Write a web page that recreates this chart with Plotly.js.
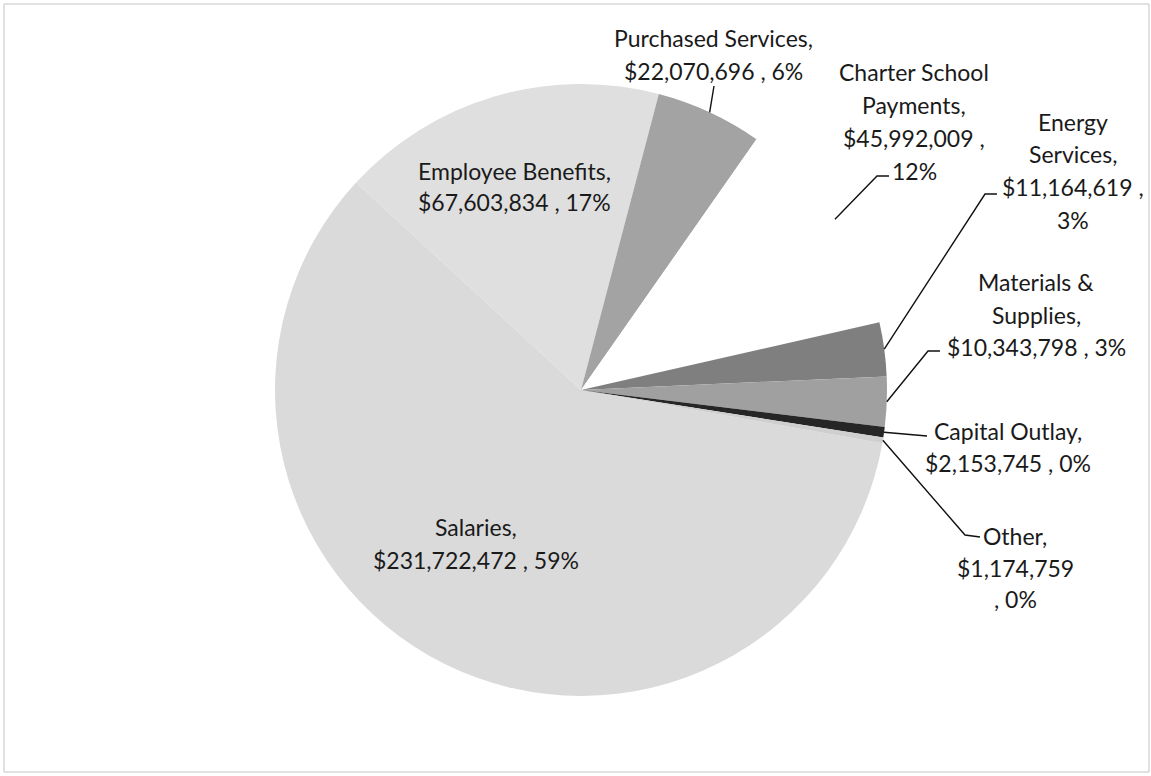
<!DOCTYPE html>
<html>
<head>
<meta charset="utf-8">
<script src="https://cdn.plot.ly/plotly-3.0.1.min.js"></script>
<style>html,body{margin:0;padding:0;background:#fff;}#chart{width:1151px;height:776px;}</style>
</head>
<body>
<div id="chart"></div>
<script>
// ---- data ----
const categories = ["Salaries", "Employee Benefits", "Purchased Services", "Charter School Payments", "Energy Services", "Materials & Supplies", "Capital Outlay", "Other"];
const amounts = [231722472, 67603834, 22070696, 45992009, 11164619, 10343798, 2153745, 1174759];
const percentLabels = ["59%", "17%", "6%", "12%", "3%", "3%", "0%", "0%"];
// label line breaks as in the original
const labelLines = [
  ["Salaries,", "$231,722,472 , 59%"],
  ["Employee Benefits,", "$67,603,834 , 17%"],
  ["Purchased Services,", "$22,070,696 , 6%"],
  ["Charter School", "Payments,", "$45,992,009 ,", "12%"],
  ["Energy", "Services,", "$11,164,619 ,", "3%"],
  ["Materials &", "Supplies,", "$10,343,798 , 3%"],
  ["Capital Outlay,", "$2,153,745 , 0%"],
  ["Other,", "$1,174,759", ", 0%"]
];
const colors = ["#dadada", "#dfdfdf", "#a3a3a3", "#ffffff", "#7f7f7f", "#a0a0a0", "#262626", "#cfcfcf"];

// ---- layout constants ----
const W = 1151, H = 776;
const CX = 581, CY = 390, R = 306;
const ROT = 100;
const FONT = "Lato, 'Open Sans', sans-serif";
const FS = 23;
// label placement: centre x, first line y, spacing, leader path (elbow points, then pie edge)
const labelPos = [
  {cx: 476, y0: 527, dy: 33, leader: null},
  {cx: 514, y0: 171, dy: 31, leader: null},
  {cx: 713, y0: 38, dy: 33, leader: [[714, 86]]},
  {cx: 914, y0: 72, dy: 33, leader: [[889, 176], [877, 176]]},
  {cx: 1073, y0: 122, dy: 32.5, leader: [[997, 194], [985, 194]]},
  {cx: 1036, y0: 282, dy: 32.5, leader: [[940, 351], [928, 351]]},
  {cx: 1008, y0: 431, dy: 32, leader: [[927, 436]]},
  {cx: 1015, y0: 536, dy: 31.5, leader: [[980, 537], [965, 535]]}
];

const px = x => x / W;
const py = y => 1 - y / H;

const total = amounts.reduce((a, b) => a + b, 0);
let cum = 0;
const midAngles = amounts.map(v => {
  const m = ROT + (cum + v / 2) / total * 360;
  cum += v;
  return m;
});

const annotations = [];
const shapes = [];
labelLines.forEach((lines, i) => {
  const p = labelPos[i];
  lines.forEach((t, k) => {
    annotations.push({
      x: px(p.cx), y: py(p.y0 + k * p.dy), xref: "paper", yref: "paper",
      xanchor: "center", yanchor: "middle", showarrow: false,
      text: t, font: {family: FONT, size: FS, color: "#1a1a1a"}
    });
  });
  if (p.leader) {
    const a = midAngles[i] * Math.PI / 180;
    const ex = CX + R * Math.sin(a), ey = CY - R * Math.cos(a);
    const pts = p.leader.concat([[ex, ey]]);
    const d = pts.map((q, k) => (k ? "L" : "M") + px(q[0]).toFixed(5) + "," + py(q[1]).toFixed(5)).join(" ");
    shapes.push({type: "path", xref: "paper", yref: "paper", path: d, line: {color: "#111", width: 1.4}});
  }
});
// chart frame
shapes.push({type: "rect", xref: "paper", yref: "paper", x0: px(4), x1: px(1149), y0: py(772), y1: py(4), line: {color: "#c4c4c4", width: 1}});

const trace = {
  type: "pie",
  labels: categories,
  values: amounts,
  sort: false,
  direction: "clockwise",
  rotation: ROT,
  marker: {colors: colors, line: {width: 0}},
  textinfo: "none",
  hoverinfo: "label+value+percent",
  showlegend: false,
  domain: {x: [px(CX - R), px(CX + R)], y: [py(CY + R), py(CY - R)]}
};

Plotly.newPlot("chart", [trace], {
  width: W, height: H,
  margin: {l: 0, r: 0, t: 0, b: 0},
  paper_bgcolor: "#ffffff",
  showlegend: false,
  annotations: annotations,
  shapes: shapes
}, {staticPlot: true});
</script>
</body>
</html>
